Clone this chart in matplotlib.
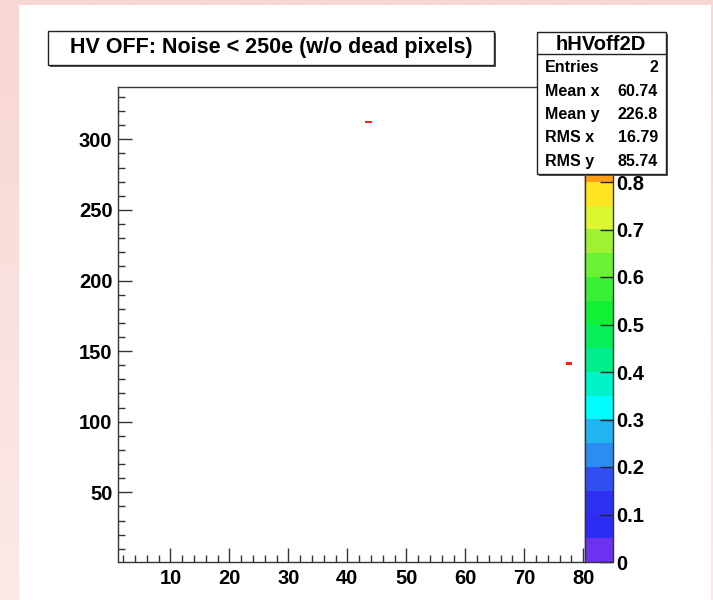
import numpy as np
import matplotlib
matplotlib.use("Agg")
import matplotlib.pyplot as plt
from matplotlib.colors import ListedColormap, BoundaryNorm
from matplotlib.patches import Rectangle
from matplotlib.ticker import MultipleLocator, FuncFormatter

plt.rcParams["font.family"] = ["Liberation Sans", "DejaVu Sans"]
plt.rcParams["font.weight"] = "bold"

# data
title = "HV OFF: Noise < 250e (w/o dead pixels)"
hist_name = "hHVoff2D"
hit_x = [43.95, 77.53]
hit_y = [312.54, 141.06]
hit_w = [1.0, 1.0]
stat_names = ["Entries", "Mean x", "Mean y", "RMS x", "RMS y"]
stat_values = ["2", "60.74", "226.8", "16.79", "85.74"]
z_ticks = [0, 0.1, 0.2, 0.3, 0.4, 0.5, 0.6, 0.7, 0.8]

# old ROOT "pretty" palette, 20 levels from 0 to 1
palette = [
    "#6c32f0", "#2c2cf2", "#2d30f0", "#2f4ff0", "#2d8cf0",
    "#20b4f0", "#00fcfc", "#00f2c8", "#00ee8c", "#06ee5a",
    "#10f034", "#3af036", "#6cf234", "#a0f034", "#dcf630",
    "#ffe424", "#ff9e18", "#ff6a14", "#ff3c14", "#ff1e1e",
]
levels = np.linspace(0, 1, 21)

W, H = 713, 600
fig = plt.figure(figsize=(W / 100, H / 100), dpi=100)


def px(x, y, w=0, h=0):
    # pixel box (top-left origin) -> figure fraction
    return [x / W, 1 - (y + h) / H, w / W, h / H]


# pinkish slide background
bg = fig.add_axes([0, 0, 1, 1], zorder=-10)
grad = np.linspace(0, 1, 200)[:, None] * np.ones((1, 2))
top_col = np.array([248, 214, 212]) / 255
bot_col = np.array([251, 234, 232]) / 255
img = top_col[None, None, :] * (1 - grad[..., None]) + bot_col[None, None, :] * grad[..., None]
bg.imshow(img, aspect="auto", extent=[0, 1, 0, 1])
bg.set_xlim(0, 1)
bg.set_ylim(0, 1)
bg.axis("off")
fig.patches.append(Rectangle((19 / W, 0), (711 - 19) / W, 1 - 5 / H,
                             transform=fig.transFigure, facecolor="white",
                             edgecolor="none", zorder=-5))

ax = fig.add_axes(px(118, 87, 585 - 118, 562 - 87))
cax = fig.add_axes(px(585, 87, 28, 562 - 87))

cmap = ListedColormap(palette)
cmap.set_over(palette[-1])
norm = BoundaryNorm(levels, cmap.N)
xedges = np.arange(0, 82, 1)
yedges = np.arange(0, 338, 1)
h = ax.hist2d(hit_x, hit_y, bins=[xedges, yedges], weights=hit_w,
              cmap=cmap, norm=norm, cmin=0.5)
# cells are ~1.4 px tall, thicken them a little so they show
h[3].set_edgecolor("face")
h[3].set_linewidth(0.4)

ax.set_xlim(1.1, 80.3)
ax.set_ylim(0.7, 337)
ax.xaxis.set_major_locator(MultipleLocator(10))
ax.xaxis.set_minor_locator(MultipleLocator(2))
ax.yaxis.set_major_locator(MultipleLocator(50))
ax.yaxis.set_minor_locator(MultipleLocator(10))
ax.set_xticks([v for v in range(10, 81, 10)])
ax.set_yticks([v for v in range(50, 301, 50)])
ax.tick_params(which="both", direction="in", top=False, right=False,
               labelsize=14.5, width=1, color="#333333")
ax.tick_params(which="major", length=10)
ax.tick_params(which="minor", length=5)
ax.tick_params(axis="x", pad=5)
ax.tick_params(axis="y", pad=4)
for lab in ax.get_xticklabels() + ax.get_yticklabels():
    lab.set_fontweight("bold")
for s in ax.spines.values():
    s.set_linewidth(1)
    s.set_color("#333333")

cb = fig.colorbar(h[3], cax=cax, ticks=z_ticks)
cb.outline.set_linewidth(1)
cb.outline.set_edgecolor("#333333")
cax.yaxis.set_ticks_position("right")
cax.tick_params(direction="in", length=9.5, width=1, labelsize=14.5, pad=2,
                color="#222222")
cax.yaxis.set_major_formatter(FuncFormatter(lambda v, p: f"{v:g}"))
cax.minorticks_off()
for lab in cax.get_yticklabels():
    lab.set_fontweight("bold")


def pave(x0, y0, w, h, z=20):
    fig.patches.append(Rectangle(px(x0 + 2, y0 + 2, w, h)[:2], w / W, h / H,
                                 transform=fig.transFigure, facecolor="#555555",
                                 edgecolor="none", zorder=z))
    fig.patches.append(Rectangle(px(x0, y0, w, h)[:2], w / W, h / H,
                                 transform=fig.transFigure, facecolor="white",
                                 edgecolor="#222222", linewidth=1, zorder=z + 1))


# title pave
pave(48, 31, 446, 34)
fig.text(271 / W, 1 - 48 / H, title, ha="center", va="center",
         fontsize=15.5, fontweight="bold", zorder=30)

# stats box
pave(537, 32, 129, 142)
fig.add_artist(plt.Line2D([537 / W, 666 / W], [1 - 54 / H, 1 - 54 / H],
                          transform=fig.transFigure, color="#222222",
                          linewidth=1, zorder=25))
fig.text(601 / W, 1 - 44 / H, hist_name, ha="center", va="center",
         fontsize=14.5, fontweight="bold", zorder=30)
row_y = [68, 91.5, 114.5, 138, 161.5]
for name, val, yy in zip(stat_names, stat_values, row_y):
    fig.text(545 / W, 1 - yy / H, name, ha="left", va="center",
             fontsize=11.5, fontweight="bold", zorder=30)
    fig.text(658 / W, 1 - yy / H, val, ha="right", va="center",
             fontsize=11.5, fontweight="bold", zorder=30)

fig.savefig("out.png", dpi=100)
